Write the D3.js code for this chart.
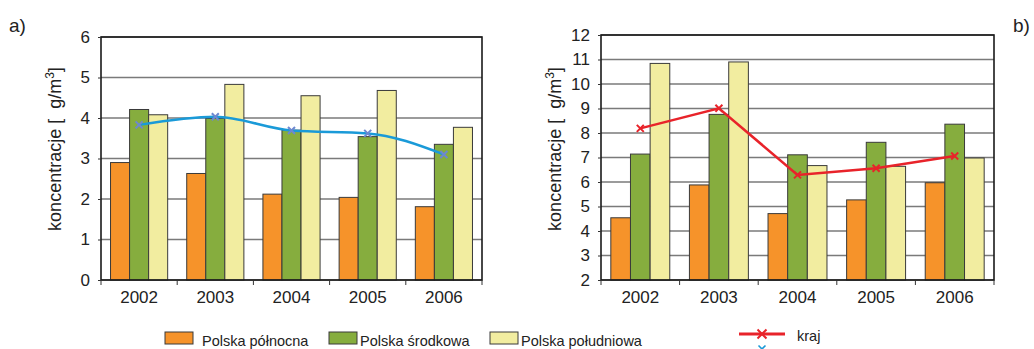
<!DOCTYPE html>
<html>
<head>
<meta charset="utf-8">
<script src="https://cdn.jsdelivr.net/npm/d3@7/dist/d3.min.js"></script>
<style>
  html, body { margin: 0; padding: 0; background: #fff; }
  svg { display: block; font-family: "Liberation Sans", Arial, Helvetica, sans-serif; }
</style>
</head>
<body>
<svg id="chart" width="1034" height="349"></svg>
<script>
const years = ["2002", "2003", "2004", "2005", "2006"];
const seriesNames = ["Polska północna", "Polska środkowa", "Polska południowa"];
const lineName = "kraj";

// panel a)
const aNorth = [2.90, 2.63, 2.12, 2.04, 1.81];
const aCentral = [4.21, 3.99, 3.70, 3.54, 3.35];
const aSouth = [4.08, 4.83, 4.55, 4.68, 3.77];
const aCountry = [3.83, 4.03, 3.69, 3.62, 3.10];
const aTicks = [0, 1, 2, 3, 4, 5, 6];

// panel b)
const bNorth = [4.54, 5.88, 4.71, 5.27, 5.97];
const bCentral = [7.14, 8.76, 7.11, 7.62, 8.36];
const bSouth = [10.84, 10.90, 6.67, 6.64, 6.98];
const bCountry = [8.19, 9.01, 6.29, 6.56, 7.06];
const bTicks = [2, 3, 4, 5, 6, 7, 8, 9, 10, 11, 12];

const barColors = ["#f6932a", "#86ad3e", "#f2eda0"];
const svg = d3.select("#chart");

function xMark(g, cx, cy, r, color, w) {
  g.append("path")
    .attr("d", `M${cx - r},${cy - r}L${cx + r},${cy + r}M${cx - r},${cy + r}L${cx + r},${cy - r}`)
    .attr("stroke", color).attr("stroke-width", w).attr("fill", "none");
}

function panel(opts) {
  const { left, right, top, bottom, domain, ticks, series, line, lineColor, markColor, curve, titleX } = opts;
  const g = svg.append("g");
  const x = d3.scaleBand().domain(years).range([left, right]).paddingInner(0.25).paddingOuter(0.125);
  const xs = d3.scaleBand().domain(seriesNames).range([0, x.bandwidth()]);
  const y = d3.scaleLinear().domain(domain).range([bottom, top]);

  g.append("g").selectAll("line").data(ticks).join("line")
    .attr("x1", left).attr("x2", right)
    .attr("y1", d => y(d)).attr("y2", d => y(d))
    .attr("stroke", "#7a7a7a").attr("stroke-width", 1.3);

  const rows = years.map((yr, i) => ({ yr, vals: series.map(s => s[i]) }));
  const grp = g.append("g").selectAll("g").data(rows).join("g")
    .attr("transform", d => `translate(${x(d.yr)},0)`);
  grp.selectAll("rect").data(d => d.vals.map((v, k) => ({ v, k }))).join("rect")
    .attr("x", d => xs(seriesNames[d.k]))
    .attr("width", xs.bandwidth())
    .attr("y", d => y(d.v))
    .attr("height", d => y(domain[0]) - y(d.v))
    .attr("fill", d => barColors[d.k])
    .attr("stroke", "#3a3a3a").attr("stroke-width", 1);

  g.append("rect").attr("x", left).attr("y", top).attr("width", right - left).attr("height", bottom - top)
    .attr("fill", "none").attr("stroke", "#1a1a1a").attr("stroke-width", 1.6);

  const ya = g.append("g").attr("transform", `translate(${left},0)`)
    .call(d3.axisLeft(y).tickValues(ticks).tickSize(3).tickPadding(8).tickFormat(d3.format("d")));
  ya.select(".domain").remove();
  ya.selectAll(".tick line").attr("stroke", "#333");
  ya.selectAll(".tick text").attr("font-size", 17).attr("fill", "#222")
    .attr("font-family", "Liberation Sans, Arial, sans-serif");

  const xa = g.append("g").attr("transform", `translate(0,${bottom})`)
    .call(d3.axisBottom(x).tickSize(0).tickPadding(11));
  xa.select(".domain").remove();
  xa.selectAll(".tick text").attr("font-size", 17).attr("fill", "#222")
    .attr("font-family", "Liberation Sans, Arial, sans-serif");
  const bounds = d3.range(years.length + 1).map(i => x.range()[0] + i * x.step());
  g.append("g").selectAll("line").data(bounds).join("line")
    .attr("x1", d => d).attr("x2", d => d).attr("y1", bottom).attr("y2", bottom + 5)
    .attr("stroke", "#333").attr("stroke-width", 1);

  const cx = yr => x(yr) + x.bandwidth() / 2;
  const pts = years.map((yr, i) => [cx(yr), y(line[i])]);
  g.append("path").attr("d", d3.line().curve(curve)(pts))
    .attr("fill", "none").attr("stroke", lineColor).attr("stroke-width", 2.5);
  pts.forEach(p => xMark(g, p[0], p[1], 3.5, markColor, 2));

  const t = g.append("text")
    .attr("transform", `translate(${titleX},149) rotate(-90)`)
    .style("white-space", "pre")
    .attr("text-anchor", "middle").attr("font-size", 18).attr("fill", "#222");
  t.append("tspan").text("koncentracje [  g/m");
  t.append("tspan").attr("font-size", 12).attr("dy", -7).text("3");
  t.append("tspan").attr("dy", 7).text("]");
}

panel({ left: 101, right: 482, top: 37, bottom: 280, domain: [0, 6], ticks: aTicks,
  series: [aNorth, aCentral, aSouth], line: aCountry, lineColor: "#1a9ad8", markColor: "#6d88d0",
  curve: d3.curveMonotoneX, titleX: 61 });
panel({ left: 601, right: 994, top: 35, bottom: 280, domain: [2, 12], ticks: bTicks,
  series: [bNorth, bCentral, bSouth], line: bCountry, lineColor: "#e8232a", markColor: "#e8232a",
  curve: d3.curveLinear, titleX: 561 });

svg.append("text").attr("x", 9).attr("y", 32).attr("font-size", 19).attr("fill", "#222").text("a)");
svg.append("text").attr("x", 1013).attr("y", 32).attr("font-size", 19).attr("fill", "#222").text("b)");

const legX = [165, 329, 490];
const leg = svg.append("g");
seriesNames.forEach((n, k) => {
  leg.append("rect").attr("x", legX[k]).attr("y", 332).attr("width", 28).attr("height", 12)
    .attr("fill", barColors[k]).attr("stroke", "#3a3a3a").attr("stroke-width", 1);
  leg.append("text").attr("x", legX[k] + (k === 0 ? 37 : 31)).attr("y", 346)
    .attr("font-size", 14.5).attr("fill", "#222").text(n);
});
leg.append("line").attr("x1", 739).attr("x2", 785).attr("y1", 334).attr("y2", 334)
  .attr("stroke", "#e8232a").attr("stroke-width", 3);
xMark(leg, 762, 334, 4.5, "#e8232a", 2);
leg.append("text").attr("x", 797).attr("y", 341).attr("font-size", 14.5).attr("fill", "#222").text(lineName);
xMark(leg, 762, 349, 3.5, "#1a9ad8", 1.6);
</script>
</body>
</html>
